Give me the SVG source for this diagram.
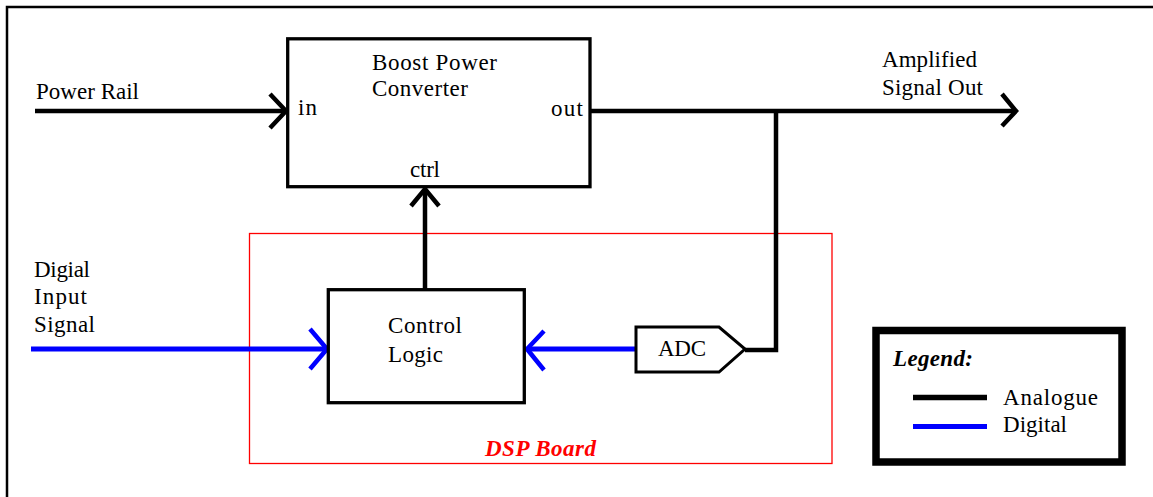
<svg xmlns="http://www.w3.org/2000/svg" width="1153" height="497" viewBox="0 0 1153 497" font-family="'Liberation Serif', 'DejaVu Serif', serif">
<style>
text{font-family:'Liberation Serif','DejaVu Serif',serif;font-size:23px;fill:#000}
.bi{font-weight:bold;font-style:italic}
.box{fill:#fff;stroke:#000;stroke-width:3.3}
.an{fill:none;stroke:#000;stroke-width:4.5}
.dg{fill:none;stroke:#0000ff;stroke-width:5}
.hd{fill:none;stroke-width:4.5;stroke-linejoin:miter}
</style>
<rect x="0" y="0" width="1153" height="497" fill="#fff"/>
<path d="M7,497 V7 H1153" fill="none" stroke="#000" stroke-width="2.5"/>
<g id="dsp-board">
<rect x="249.5" y="233.5" width="582.5" height="230" fill="none" stroke="#ff0000" stroke-width="1.3"/>
<text x="485" y="456" class="bi" style="fill:#ff0000" textLength="111">DSP Board</text>
</g>
<g id="connectors">
<line class="an" x1="35" y1="111" x2="285" y2="111"/>
<polyline class="hd" stroke="#000" points="270,94 286,111 270,128"/>
<line class="an" x1="590" y1="111" x2="1014" y2="111"/>
<polyline class="hd" stroke="#000" points="1002,94 1016,111 1002,126"/>
<polyline class="an" points="776,111 776,350 745,350"/>
<line class="an" x1="425" y1="289" x2="425" y2="190"/>
<polyline class="hd" stroke="#000" points="411,206 425,189 439,206"/>
<line class="dg" x1="31" y1="349" x2="326" y2="349"/>
<polyline class="hd" stroke="#0000ff" points="310,329 327,349 310,369"/>
<line class="dg" x1="636" y1="349" x2="528" y2="349"/>
<polyline class="hd" stroke="#0000ff" points="544,331 527,349 544,370"/>
</g>
<g id="boost-power-converter">
<rect class="box" x="287.7" y="38.8" width="302.3" height="147.9"/>
<text x="372" y="70" textLength="125">Boost Power</text>
<text x="372" y="96" textLength="96">Converter</text>
<text x="298" y="115" textLength="19">in</text>
<text x="551" y="116" textLength="32">out</text>
<text x="410" y="177" textLength="30">ctrl</text>
</g>
<g id="control-logic">
<rect class="box" x="328.3" y="289.7" width="196" height="113"/>
<text x="388" y="333" textLength="74">Control</text>
<text x="388" y="362" textLength="55">Logic</text>
</g>
<g id="adc">
<polygon points="636,327 719,327 745,349 719,372 636,372" fill="#fff" stroke="#000" stroke-width="3"/>
<text x="658" y="356" textLength="48">ADC</text>
</g>
<g id="labels">
<text x="36" y="99" textLength="103">Power Rail</text>
<text x="882" y="67" textLength="95">Amplified</text>
<text x="882" y="95" textLength="101">Signal Out</text>
<text x="34" y="277" textLength="56">Digial</text>
<text x="34" y="304" textLength="53">Input</text>
<text x="34" y="332" textLength="61">Signal</text>
</g>
<g id="legend">
<rect x="876" y="330.5" width="246" height="131.5" fill="#fff" stroke="#000" stroke-width="7.5"/>
<text x="893" y="366" class="bi" textLength="80">Legend:</text>
<line x1="913" y1="397.5" x2="987" y2="397.5" stroke="#000" stroke-width="5.5"/>
<line x1="913" y1="426.5" x2="987" y2="426.5" stroke="#0000ff" stroke-width="5"/>
<text x="1003" y="405" textLength="95">Analogue</text>
<text x="1003" y="432" textLength="64">Digital</text>
</g>
</svg>
